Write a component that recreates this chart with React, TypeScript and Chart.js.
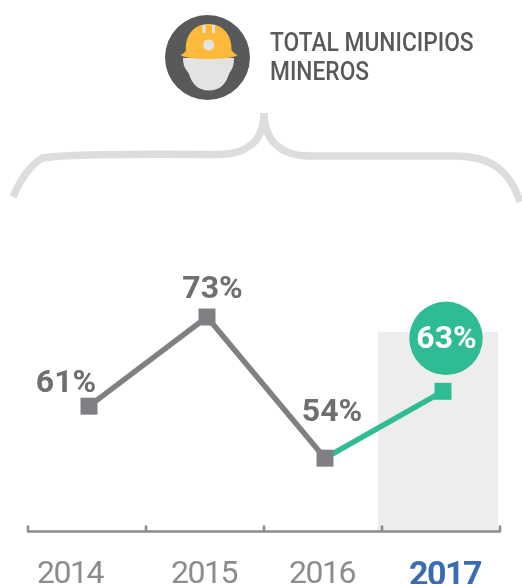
import React, { useEffect, useRef } from "react";
import { Chart, registerables } from "chart.js";

Chart.register(...registerables);

const years = ["2014", "2015", "2016", "2017"];
const trendValues = [61, 73, 54, null];
const latestValues = [null, null, 54, 63];
const highlightTop = 71;
const yMin = 44.2;
const yMax = 80;
const headerLines = ["TOTAL MUNICIPIOS", "MINEROS"];

const GRAY = "#808084";
const GREEN = "#2fbc94";
const LABEL_GRAY = "#6f6f72";

const labelShift = [-19, -3, -3, 2];
const valueLabelOffsets = [
  { dx: -23, dy: -22 },
  { dx: 5.5, dy: -27 },
  { dx: 7, dy: -45 },
];

const decorations = {
  id: "decorations",
  beforeDraw(chart: any) {
    const { ctx } = chart;
    const x = chart.scales.x;
    const y = chart.scales.y;
    const bottom = chart.chartArea.bottom;
    x.getLabelItems().forEach((item: any, i: number) => {
      item.options.translation[0] = x.getPixelForTick(i) + labelShift[i];
    });
    ctx.save();

    // highlighted band behind the last year
    const cx = x.getPixelForValue(3);
    const top = y.getPixelForValue(highlightTop);
    ctx.fillStyle = "#ededed";
    ctx.fillRect(cx - 65, top, 120, bottom - top);

    // header badge
    ctx.fillStyle = "#58595b";
    ctx.beginPath();
    ctx.arc(207.5, 57.5, 42.5, 0, Math.PI * 2);
    ctx.fill();
    // face
    ctx.fillStyle = "#e3e3e3";
    ctx.beginPath();
    ctx.moveTo(183, 58);
    ctx.bezierCurveTo(183, 68, 187, 70, 189, 74);
    ctx.bezierCurveTo(192, 84, 198, 90.5, 209, 90.5);
    ctx.bezierCurveTo(220, 90.5, 226, 84, 229, 74);
    ctx.bezierCurveTo(231, 70, 234, 68, 234, 58);
    ctx.closePath();
    ctx.fill();
    // helmet
    ctx.fillStyle = "#fdb93a";
    ctx.beginPath();
    ctx.moveTo(180.5, 55);
    ctx.quadraticCurveTo(185, 53, 186, 50);
    ctx.bezierCurveTo(185, 34, 195, 24, 208.5, 24);
    ctx.bezierCurveTo(222, 24, 232, 34, 231.5, 50);
    ctx.quadraticCurveTo(233, 53, 237.5, 55);
    ctx.bezierCurveTo(232, 60.5, 186, 60.5, 180.5, 55);
    ctx.closePath();
    ctx.fill();
    ctx.fillStyle = "#e3e3e3";
    ctx.beginPath();
    ctx.arc(208.7, 45, 5.5, 0, Math.PI * 2);
    ctx.fill();
    ctx.fillRect(202.5, 25, 3, 8);
    ctx.fillRect(212, 25, 3, 8);

    // header text, drawn narrower than the installed face
    ctx.save();
    ctx.fillStyle = "#58595b";
    ctx.font = "500 26px Roboto";
    ctx.textAlign = "left";
    ctx.textBaseline = "alphabetic";
    ctx.translate(270, 0);
    ctx.scale(0.875, 1);
    ctx.fillText(headerLines[0], 0, 51);
    ctx.fillText(headerLines[1], 0, 80);
    ctx.restore();

    // brace
    ctx.strokeStyle = "#dcdddc";
    ctx.lineWidth = 7.5;
    ctx.lineCap = "butt";
    ctx.beginPath();
    ctx.moveTo(13, 197);
    ctx.bezierCurveTo(20, 180, 30, 166, 42, 158);
    ctx.bezierCurveTo(70, 153, 170, 154, 220, 154.5);
    ctx.bezierCurveTo(250, 154, 264, 138, 264, 113);
    ctx.bezierCurveTo(264, 140, 280, 156, 310, 156);
    ctx.lineTo(455, 156);
    ctx.bezierCurveTo(490, 156, 510, 170, 520, 202);
    ctx.stroke();

    // axis bracket
    ctx.strokeStyle = "#8c8c8a";
    ctx.lineWidth = 2.6;
    ctx.lineJoin = "round";
    ctx.lineCap = "round";
    const edge = (i: number) => x.getPixelForValue(0) - 61 + i * (x.getPixelForValue(1) - x.getPixelForValue(0));
    const axisY = bottom + 0.5;
    ctx.beginPath();
    ctx.moveTo(edge(0), axisY - 5);
    ctx.lineTo(edge(0), axisY);
    ctx.lineTo(edge(4), axisY);
    ctx.lineTo(edge(4), axisY - 5);
    for (let i = 1; i < 4; i++) {
      ctx.moveTo(edge(i), axisY);
      ctx.lineTo(edge(i), axisY - 5);
    }
    ctx.stroke();
    ctx.restore();
    (ctx as any).letterSpacing = "-1.5px";
  },
  beforeDatasetsDraw(chart: any) {
    (chart.ctx as any).letterSpacing = "0px";
  },
  afterDatasetsDraw(chart: any) {
    const { ctx } = chart;
    const x = chart.scales.x;
    const y = chart.scales.y;
    ctx.save();
    ctx.textAlign = "center";
    ctx.textBaseline = "middle";
    ctx.font = "bold 32px Roboto";
    ctx.fillStyle = LABEL_GRAY;
    trendValues.forEach((v, i) => {
      if (v === null) return;
      const o = valueLabelOffsets[i];
      ctx.fillText(`${v}%`, x.getPixelForValue(i) + o.dx, y.getPixelForValue(v) + o.dy);
    });
    const last = latestValues[3] as number;
    const bx = x.getPixelForValue(3) + 3;
    const by = y.getPixelForValue(last) - 53;
    ctx.fillStyle = GREEN;
    ctx.beginPath();
    ctx.arc(bx, by, 36.7, 0, Math.PI * 2);
    ctx.fill();
    ctx.fillStyle = "#ffffff";
    ctx.fillText(`${last}%`, bx + 0.5, by + 2);
    ctx.restore();
  },
};

export default function App() {
  const ref = useRef<HTMLCanvasElement>(null);
  useEffect(() => {
    document.body.style.margin = "0";
    const chart = new Chart(ref.current as HTMLCanvasElement, {
      type: "line",
      data: {
        labels: years,
        datasets: [
          {
            label: "Total",
            data: trendValues,
            borderColor: GRAY,
            backgroundColor: GRAY,
            borderWidth: 5.5,
            pointStyle: "rect",
            pointRadius: 12,
            pointBackgroundColor: GRAY,
            pointBorderWidth: 0,
            tension: 0,
            order: 1,
          },
          {
            label: "2017",
            data: latestValues,
            borderColor: GREEN,
            backgroundColor: GREEN,
            borderWidth: 5.5,
            pointStyle: "rect",
            pointRadius: [0, 0, 0, 12],
            pointBackgroundColor: GREEN,
            pointBorderWidth: 0,
            tension: 0,
            order: 2,
          },
        ],
      },
      options: {
        responsive: false,
        animation: false,
        layout: { padding: { top: 265, left: 30, right: 20, bottom: 0 } },
        plugins: { legend: { display: false }, tooltip: { enabled: false }, title: { display: false } },
        scales: {
          x: {
            type: "category",
            offset: true,
            grid: { display: false },
            border: { display: false },
            afterFit: (s: any) => {
              s.height = 53;
            },
            ticks: {
              padding: 17,
              maxRotation: 0,
              autoSkip: false,
              color: (c: any) => (c.index === 3 ? "#3b6cb3" : "#8c8c8a"),
              font: (c: any) =>
                c.index === 3
                  ? { family: "Roboto", size: 34, weight: "bold" }
                  : { family: "Roboto", size: 32, weight: "normal" },
            },
          },
          y: { display: false, min: yMin, max: yMax },
        },
      } as any,
      plugins: [decorations],
    });
    return () => chart.destroy();
  }, []);
  return <canvas ref={ref} width={522} height={584} style={{ display: "block" }} />;
}
